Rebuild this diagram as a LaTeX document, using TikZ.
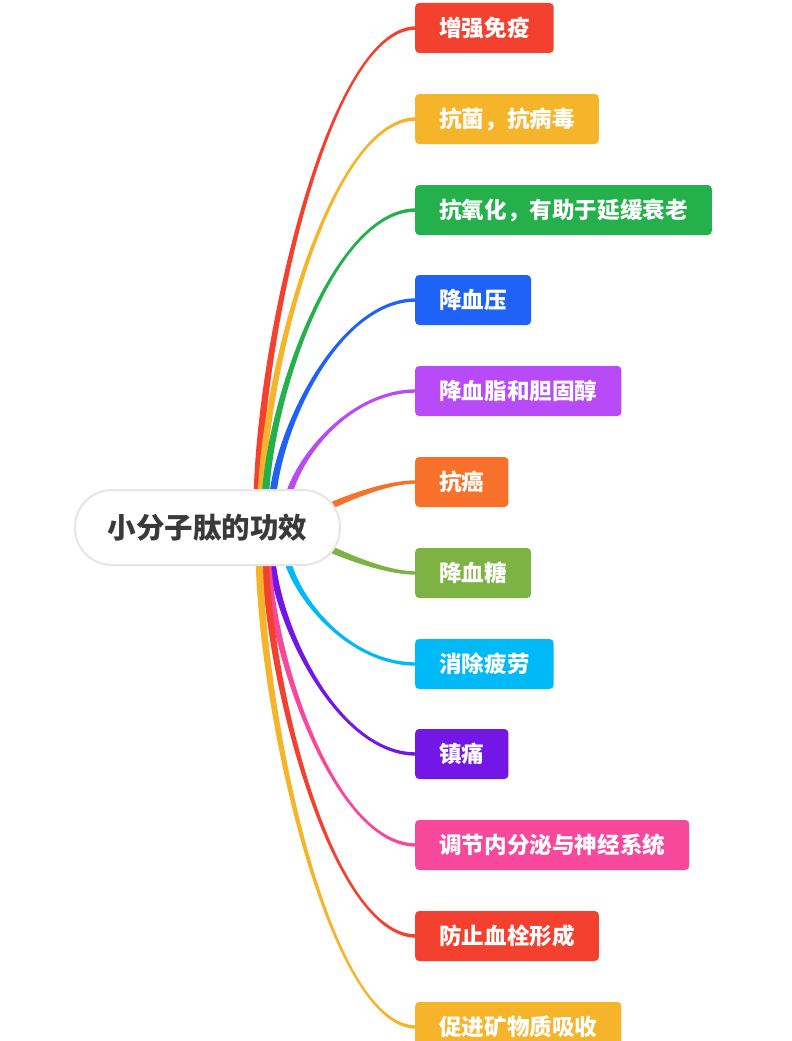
\documentclass[tikz,border=0pt]{standalone}
\usepackage{fontspec}
\newfontfamily\cjk{Noto Sans CJK SC}
\usetikzlibrary{calc}
\pgfdeclarelayer{background}
\pgfsetlayers{background,main}
\definecolor{cred}{HTML}{F4412F}
\definecolor{cyel}{HTML}{F6B42B}
\definecolor{cgrn}{HTML}{24B04B}
\definecolor{cblu}{HTML}{1E62F8}
\definecolor{cpur}{HTML}{B84BF7}
\definecolor{cora}{HTML}{F7712B}
\definecolor{coli}{HTML}{7CB342}
\definecolor{ccya}{HTML}{00BAF7}
\definecolor{cvio}{HTML}{7217E6}
\definecolor{cpin}{HTML}{F7489C}
\definecolor{rootborder}{HTML}{E6E6E6}
\definecolor{roottext}{HTML}{3A3A3A}
\tikzset{
  leaf/.style={anchor=west, rounded corners=4pt, fill=#1, text=white,
    minimum height=50pt, inner xsep=24pt, inner ysep=0pt,
    font=\cjk\bfseries\fontsize{22.6}{22.6}\selectfont},
  rootbox/.style={rounded corners=37pt, fill=white, draw=rootborder, line width=2pt,
    minimum width=265pt, minimum height=75pt, text=roottext,
    font=\cjk\bfseries\fontsize{28.5}{28.5}\selectfont}
}
% #1 colour, #2 start coordinate, #3 out angle, #4 factor of |dy|, #5 factor of dx, #6 end node
\newcommand\branchline[6]{%
  \fill[#1] let \p0=(#2), \p3=(#6.west),
    \n1={#4*abs(\y3-\y0)}, \n2={#5*(\x3-\x0)} in
    ({\x0-3.6pt*sin(#3)},{\y0+3.6pt*cos(#3)})
    .. controls ({\x0-3.6pt*sin(#3)+\n1*1pt*cos(#3)},{\y0+3.6pt*cos(#3)+\n1*1pt*sin(#3)})
       and ({\x3-\n2*1pt},{\y3+1.7pt}) .. ({\x3+1pt},{\y3+1.7pt})
    -- ({\x3+1pt},{\y3-1.7pt})
    .. controls ({\x3-\n2*1pt},{\y3-1.7pt})
       and ({\x0+3.6pt*sin(#3)+\n1*1pt*cos(#3)},{\y0-3.6pt*cos(#3)+\n1*1pt*sin(#3)})
       .. ({\x0+3.6pt*sin(#3)},{\y0-3.6pt*cos(#3)}) -- cycle;}
\begin{document}
\begin{tikzpicture}[x=1pt,y=-1pt]
\useasboundingbox (0,0) rectangle (792,1041);
\clip (0,0) rectangle (792,1041);
\begin{pgfonlayer}{background}
\fill[white] (0,0) rectangle (792,1041);
\end{pgfonlayer}

% leaves
\node[leaf=cred] (b1) at (415,28) {增强免疫};
\node[leaf=cyel] (b2) at (415,119) {抗菌，抗病毒};
\node[leaf=cgrn] (b3) at (415,210) {抗氧化，有助于延缓衰老};
\node[leaf=cblu] (b4) at (415,300) {降血压};
\node[leaf=cpur] (b5) at (415,391) {降血脂和胆固醇};
\node[leaf=cora] (b6) at (415,482) {抗癌};
\node[leaf=coli] (b7) at (415,573) {降血糖};
\node[leaf=ccya] (b8) at (415,664) {消除疲劳};
\node[leaf=cvio] (b9) at (415,754) {镇痛};
\node[leaf=cpin] (b10) at (415,845) {调节内分泌与神经系统};
\node[leaf=cred] (b11) at (415,936) {防止血栓形成};
\node[leaf=cyel] (b12) at (415,1027) {促进矿物质吸收};

% root
\node[rootbox] (root) at (207.5,527.5) {小分子肽的功效};

% start points of the connectors (hidden under the root)
\coordinate (s1) at (257,510);
\coordinate (s2) at (261,510);
\coordinate (s3) at (265,510);
\coordinate (s4) at (272,510);
\coordinate (s5) at (286,512);
\coordinate (s6) at (305,518);
\coordinate (s7) at (305,537);
\coordinate (s8) at (285,545);
\coordinate (s9) at (271,545);
\coordinate (s10) at (267,545);
\coordinate (s11) at (265,545);
\coordinate (s12) at (259,545);

\begin{pgfonlayer}{background}
\branchline{cred}{s1}{90}{0.33}{0.56}{b1}
\branchline{cyel}{s2}{90}{0.33}{0.56}{b2}
\branchline{cgrn}{s3}{90}{0.33}{0.56}{b3}
\branchline{cblu}{s4}{90}{0.33}{0.56}{b4}
\branchline{cpur}{s5}{90}{0.33}{0.56}{b5}
\branchline{cora}{s6}{27}{1.1}{0.27}{b6}
\branchline{coli}{s7}{-27}{1.1}{0.27}{b7}
\branchline{ccya}{s8}{-90}{0.33}{0.56}{b8}
\branchline{cvio}{s9}{-90}{0.33}{0.56}{b9}
\branchline{cpin}{s10}{-90}{0.33}{0.56}{b10}
\branchline{cred}{s11}{-90}{0.33}{0.56}{b11}
\branchline{cyel}{s12}{-90}{0.33}{0.56}{b12}
\end{pgfonlayer}
\end{tikzpicture}
\end{document}
